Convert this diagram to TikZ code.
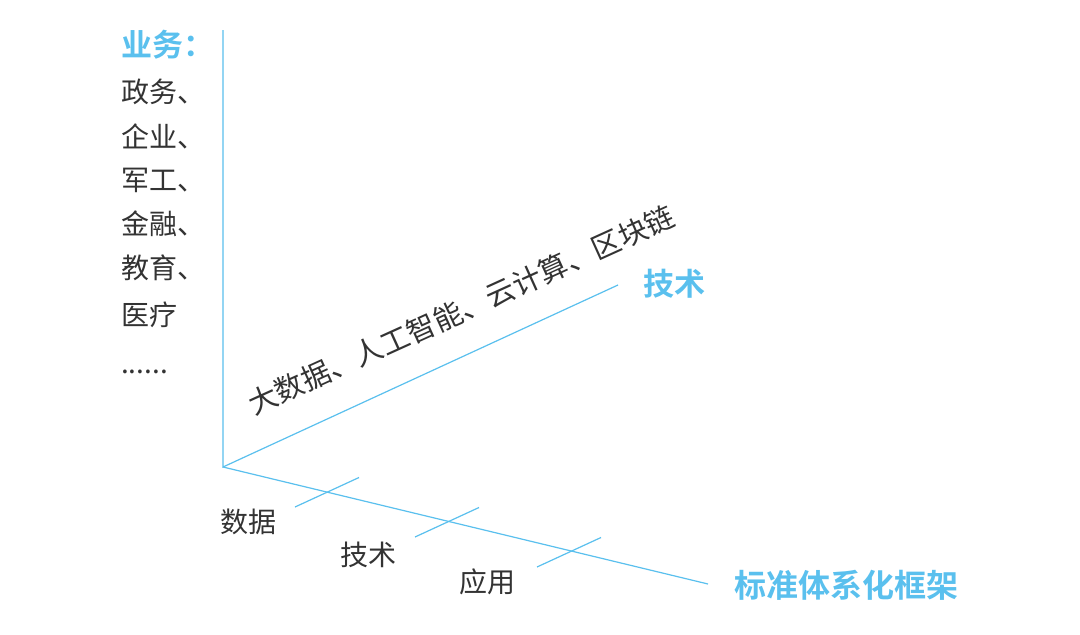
\documentclass[tikz,border=0pt]{standalone}
\usepackage{fontspec}
\newfontfamily\cjk{Noto Sans CJK SC}
\newfontfamily\cjkb{Noto Sans CJK SC Bold}
\definecolor{axisblue}{RGB}{90,192,238}
\definecolor{txtgrey}{RGB}{51,51,51}
\tikzset{
  axisline/.style={draw=axisblue, line width=1.2pt},
  ticklinestyle/.style={draw=axisblue, line width=1.2pt},
  bluelabel/.style={text=axisblue, font=\cjkb\fontsize{31}{34}\selectfont, inner sep=0pt},
  greylabel/.style={text=txtgrey, font=\cjk\fontsize{28}{32}\selectfont, inner sep=0pt},
  slantlabel/.style={text=txtgrey, font=\cjk\fontsize{29}{32}\selectfont, inner sep=0pt},
}
\begin{document}
\begin{tikzpicture}[x=1pt,y=-1pt]
\useasboundingbox (0,0) rectangle (1080,635);
\fill[white] (0,0) rectangle (1080,635);
% axes
\coordinate (O) at (223,467);
\coordinate (Ytop) at (223,30);
\coordinate (Tend) at (618,285);
\coordinate (Send) at (708,584);
\draw[axisline] (Ytop) -- (O) -- (Tend);
\draw[axisline] (O) -- (Send);
% ticks
\coordinate (c1) at (327,492);
\coordinate (c2) at (447,522);
\coordinate (c3) at (569,552);
\foreach \c in {c1,c2,c3}{
  \draw[ticklinestyle] ([shift={(-32,15)}]\c) -- ([shift={(32,-14.5)}]\c);
}
% tick labels
\node[greylabel] (lshuju) at (248,522) {数据};
\node[greylabel] (ljishu) at (368,555) {技术};
\node[greylabel] (lyingyong) at (487,582) {应用};
% axis labels
\node[bluelabel] (ltech) at (674,284) {技术};
\node[bluelabel, anchor=west, font=\cjkb\fontsize{32}{34}\selectfont] (lstd) at (734,585) {标准体系化框架};
% left column
\node[bluelabel, anchor=west] (lyewu) at (121,45) {业务：};
\node[greylabel, anchor=west] (l1) at (121,92) {政务、};
\node[greylabel, anchor=west] (l2) at (121,136) {企业、};
\node[greylabel, anchor=west] (l3) at (121,180) {军工、};
\node[greylabel, anchor=west] (l4) at (121,224) {金融、};
\node[greylabel, anchor=west] (l5) at (121,268) {教育、};
\node[greylabel, anchor=west] (l6) at (121,315) {医疗};
\node[greylabel, anchor=west] (l7) at (121,372) {......};
% rotated tech text
\node[slantlabel, rotate=24.4] (ltechlist) at (461,310) {大数据、人工智能、云计算、区块链};
\end{tikzpicture}
\end{document}
